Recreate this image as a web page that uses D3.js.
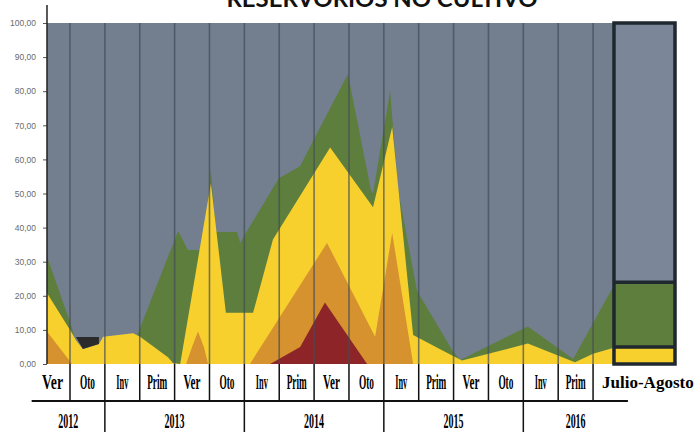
<!DOCTYPE html>
<html><head><meta charset="utf-8">
<script src="https://cdn.jsdelivr.net/npm/d3@7"></script>
<style>body{margin:0;background:#fff}svg{display:block}</style>
</head><body><svg id="c" width="695" height="432"></svg>
<script>
// ---------- data ----------
const title = "RESERVORIOS NO CULTIVO";
const categories = ["Ver","Oto","Inv","Prim","Ver","Oto","Inv","Prim","Ver","Oto","Inv","Prim","Ver","Oto","Inv","Prim","Julio-Agosto"];
const yearLabels = ["2012","2013","2014","2015","2016"];
const yearStart = [-0.1, 2, 6, 10, 14];
const yearEnd = [2, 6, 10, 14, 17];
const yTicks = [0,10,20,30,40,50,60,70,80,90,100];
// cumulative tops of each layer, [position in category units, value %]
const greenTop = [[0.34,31.5],[1.06,10.5],[1.29,0],[2.81,0],[2.95,9],[4.10,39],[4.38,33.4],[4.73,33.4],[4.90,40],[5.04,57],[5.13,45],[5.16,38.7],[5.79,38.7],[5.88,35.5],[5.96,37],[6.99,54.5],[7.60,58],[8.00,66],[8.97,85],[9.63,51],[9.69,50],[10.18,80],[10.41,51],[10.95,21.5],[11.96,4],[12.19,1.2],[14.13,11],[15.43,1.5],[16.57,22.5]];
const yellowTop = [[0.34,20.8],[1.06,9],[1.17,7],[1.37,4.4],[1.83,5.9],[1.95,8],[2.81,9],[3.01,8],[3.81,2],[3.95,0.3],[4.16,0],[5.04,53],[5.47,15],[6.25,15],[6.82,36.5],[8.46,63.5],[9.69,46],[10.24,69.5],[10.84,8.5],[11.67,4],[12.24,1],[14.13,6],[15.48,0.5],[16.0,3],[16.57,4.7]];
const orangeTop = [[0.34,9.5],[1.06,0],[4.33,0],[4.50,5],[4.67,9.5],[4.84,5],[4.96,0],[6.16,0],[8.37,35.5],[9.75,8],[10.24,38.4],[10.84,0],[16.57,0]];
const redTop = [[6.74,0],[7.60,5],[8.31,18],[9.52,0]];
const darkPatch = [[1.17,7.9],[1.83,7.9],[1.83,5.9],[1.37,4.4]];
const julioAgosto = [5, 19, 76]; // amarillo, verde, resto
const barSpan = [16.6, 18.35];

// ---------- styles ----------
const C = {gray:"#737e8e", grayBox:"#7b8698", green:"#5d7e3c", yellow:"#f7d02e", orange:"#d5922e", red:"#8c2428", dark:"#2b2b2b", grid:"#444d59", border:"#1e282e"};
const labelW = {Ver:17, Oto:15, Inv:12, Prim:20};

const svg = d3.select("#c");
const x = d3.scaleLinear().domain([0,18]).range([35.13, 662.8]);
const y = d3.scaleLinear().domain([0,100]).range([364, 23]);
const x0 = x(0.34);

// background (remaining %)
svg.append("rect").attr("x", x0).attr("y", y(100)).attr("width", x(barSpan[0]) - x0).attr("height", y(0) - y(100)).attr("fill", C.gray);

const area = d3.area().x(d => x(d[0])).y0(y(0)).y1(d => y(d[1]));
[[greenTop, C.green],[yellowTop, C.yellow],[orangeTop, C.orange],[redTop, C.red]].forEach(([d, c]) => {
  svg.append("path").datum(d).attr("d", area).attr("fill", c);
});
svg.append("path").datum(darkPatch)
  .attr("d", d3.line().x(d => x(d[0])).y(d => y(d[1])).curve(d3.curveLinearClosed))
  .attr("fill", C.dark);

// vertical gridlines
svg.append("g").selectAll("line").data(d3.range(1, 17)).join("line")
  .attr("x1", d => x(d)).attr("x2", d => x(d)).attr("y1", y(100)).attr("y2", y(0))
  .attr("stroke", C.grid).attr("stroke-width", 1.6).attr("opacity", 0.7);

// Julio-Agosto bar
const cum = d3.cumsum(julioAgosto);
const segColors = [C.yellow, C.green, C.grayBox];
const bx0 = x(barSpan[0]), bx1 = x(barSpan[1]);
svg.append("g").selectAll("rect").data(julioAgosto).join("rect")
  .attr("x", bx0).attr("width", bx1 - bx0)
  .attr("y", (d, i) => y(cum[i])).attr("height", (d, i) => y(cum[i] - d) - y(cum[i]))
  .attr("fill", (d, i) => segColors[i]);
svg.append("g").selectAll("line").data(cum.slice(0, 2)).join("line")
  .attr("x1", bx0).attr("x2", bx1).attr("y1", d => y(d)).attr("y2", d => y(d))
  .attr("stroke", C.border).attr("stroke-width", 3.5);
svg.append("rect").attr("x", bx0).attr("y", y(100)).attr("width", bx1 - bx0).attr("height", y(0) - y(100))
  .attr("fill", "none").attr("stroke", C.border).attr("stroke-width", 3.5);

// y axis
const ax = svg.append("g").attr("transform", `translate(${x0},0)`)
  .call(d3.axisLeft(y).tickValues(yTicks).tickFormat(d => d.toFixed(2).replace(".", ",")).tickSize(4).tickPadding(7).tickSizeOuter(0));
ax.select(".domain").remove();
ax.selectAll("text").attr("font-family", "Liberation Sans, Arial, sans-serif").attr("font-size", 8.5).attr("fill", "#6a6a6a");
ax.selectAll("line").attr("stroke", "#555");
svg.append("line").attr("x1", x0).attr("x2", x0).attr("y1", 5).attr("y2", y(0)).attr("stroke", "#222").attr("stroke-width", 1.5);

// category table
const tbl = svg.append("g").attr("stroke", "#111").attr("stroke-width", 1.5);
tbl.selectAll("line.c").data(d3.range(1, 17)).join("line").attr("class", "c")
  .attr("x1", d => x(d)).attr("x2", d => x(d)).attr("y1", y(0)).attr("y2", 401);
tbl.selectAll("line.y").data(yearStart.slice(1)).join("line").attr("class", "y")
  .attr("x1", d => x(d)).attr("x2", d => x(d)).attr("y1", 401).attr("y2", 432);
tbl.append("line").attr("x1", x(yearStart[0])).attr("x2", x(yearEnd[4])).attr("y1", 401).attr("y2", 401).attr("stroke-width", 2);

// condensed labels: squeeze horizontally with a transform
function squeeze(sel, targetW, px, py) {
  sel.each(function(d, i) {
    const t = d3.select(this);
    const w = this.getComputedTextLength();
    const tw = typeof targetW === "function" ? targetW(d, i) : targetW;
    t.attr("transform", `translate(${px(d, i)},${py}) scale(${tw / w},1)`);
  });
}
const catText = svg.append("g").selectAll("text").data(categories.slice(0, 16)).join("text")
  .attr("text-anchor", "middle")
  .attr("font-family", "Liberation Serif, serif").attr("font-weight", "bold").attr("font-size", 21)
  .text(d => d);
squeeze(catText, (d, i) => i === 0 ? 21 : labelW[d], (d, i) => x(i + 0.5), 389);

svg.append("text").attr("x", x(16) + 9).attr("y", 388)
  .attr("font-family", "Liberation Serif, serif").attr("font-weight", "bold").attr("font-size", 17)
  .text(categories[16]);

const yearText = svg.append("g").selectAll("text").data(yearLabels).join("text")
  .attr("text-anchor", "middle")
  .attr("font-family", "Liberation Serif, serif").attr("font-weight", "bold").attr("font-size", 21)
  .text(d => d);
squeeze(yearText, 20, (d, i) => x((yearStart[i] + yearEnd[i]) / 2), 428);

// title (cut off at the top as in the scan)
svg.append("text").attr("x", 382).attr("y", 7).attr("text-anchor", "middle")
  .attr("font-family", "Lato, Liberation Sans, sans-serif").attr("font-weight", "bold").attr("font-size", 22)
  .attr("textLength", 311).attr("lengthAdjust", "spacingAndGlyphs").attr("fill", "#111")
  .text(title);
</script></body></html>
